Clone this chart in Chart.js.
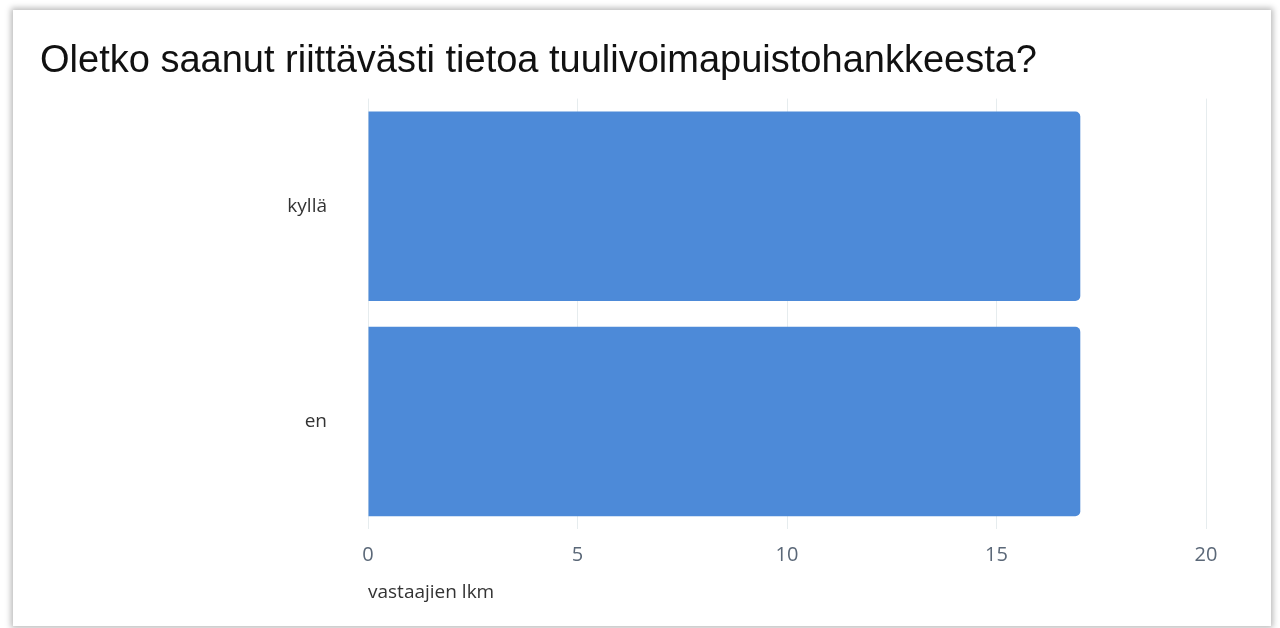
<!DOCTYPE html>
<html lang="fi">
<head>
<meta charset="utf-8">
<title>Tuulivoimapuisto – kysely</title>
<script src="https://cdn.jsdelivr.net/npm/chart.js@4"></script>
<style>
  html, body { margin: 0; padding: 0; background: #ffffff; }
  body { width: 1280px; height: 628px; position: relative; overflow: hidden; }
  .card {
    position: absolute; left: 13px; top: 10px; width: 1258px; height: 616px;
    background: #ffffff;
    box-shadow: 0 0 6px 2px rgba(0, 0, 0, 0.28);
  }
  #chart { position: absolute; left: 0; top: 0; }
</style>
</head>
<body>
<div class="card"></div>
<canvas id="chart" width="1280" height="628"></canvas>
<script>
// Survey answers
const questionTitle = 'Oletko saanut riittävästi tietoa tuulivoimapuistohankkeesta?';
const answers = ['kyllä', 'en'];
const respondents = [17, 17];
const axisTitle = 'vastaajien lkm';
const xMin = 0;
const xMax = 20;
const xStep = 5;

const ctx = document.getElementById('chart').getContext('2d');

new Chart(ctx, {
    type: 'bar',
    data: {
        labels: answers,
        datasets: [{
            label: axisTitle,
            data: respondents,
            backgroundColor: '#4d8ad8',
            borderRadius: 5,
            borderSkipped: 'start',
            barPercentage: 0.88,
            categoryPercentage: 1.0
        }]
    },
    options: {
        indexAxis: 'y',
        responsive: false,
        animation: false,
        layout: {
            padding: { left: 40, right: 74, top: 0, bottom: 24 }
        },
        plugins: {
            legend: { display: false },
            tooltip: { enabled: false },
            title: {
                display: true,
                text: questionTitle,
                align: 'start',
                color: '#111111',
                font: { family: '"Liberation Sans", Arial, sans-serif', size: 38, weight: 'normal', lineHeight: 1.2 },
                padding: { top: 39, bottom: 14 }
            }
        },
        scales: {
            x: {
                min: xMin,
                max: xMax,
                ticks: {
                    stepSize: xStep,
                    color: '#5b6878',
                    padding: 14,
                    font: { family: '"Open Sans", sans-serif', size: 20 }
                },
                grid: {
                    color: '#e6ecee',
                    lineWidth: 1,
                    drawTicks: false
                },
                border: { display: false },
                title: {
                    display: true,
                    text: axisTitle,
                    align: 'start',
                    color: '#333333',
                    font: { family: '"Open Sans", sans-serif', size: 19 },
                    padding: { top: 0, bottom: 0 }
                }
            },
            y: {
                ticks: {
                    color: '#333333',
                    padding: 41,
                    font: { family: '"Open Sans", sans-serif', size: 19 }
                },
                grid: { display: false, drawTicks: false },
                border: { display: false },
                afterFit: function (scale) {
                    scale.width = 328;
                }
            }
        }
    }
});
</script>
</body>
</html>
